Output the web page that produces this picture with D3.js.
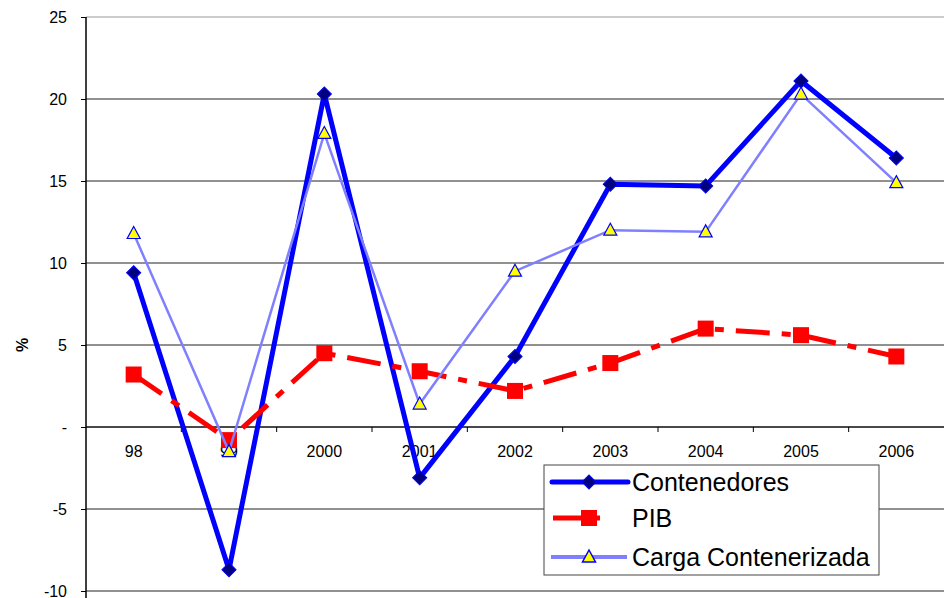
<!DOCTYPE html>
<html>
<head>
<meta charset="utf-8" />
<title>Contenedores</title>
<script src="https://d3js.org/d3.v7.min.js"></script>
<style>
  body { margin: 0; background: #fff; }
  text { font-family: "Liberation Sans", Arial, sans-serif; }
</style>
</head>
<body>
<svg id="chart" width="946" height="598"></svg>
<script>
var years = ["98", "99", "2000", "2001", "2002", "2003", "2004", "2005", "2006"];
var contenedores = [9.4, -8.7, 20.3, -3.1, 4.3, 14.8, 14.7, 21.1, 16.4];
var pib = [3.2, -0.8, 4.5, 3.4, 2.2, 3.9, 6.0, 5.6, 4.3];
var carga = [11.8, -1.5, 17.9, 1.4, 9.5, 12.0, 11.9, 20.3, 14.9];
var yTicks = [-10, -5, 0, 5, 10, 15, 20, 25];

var svg = d3.select("#chart");
var plotLeft = 86, plotRight = 944, plotTop = 17, plotBottom = 591;

var x = d3.scaleBand().domain(years).range([plotLeft, plotRight]);
var y = d3.scaleLinear().domain([-10, 25]).range([plotBottom, plotTop]);

// grid lines
svg.selectAll("line.grid").data(yTicks).enter().append("line")
  .attr("x1", plotLeft).attr("x2", plotRight)
  .attr("y1", function(d) { return y(d); }).attr("y2", function(d) { return y(d); })
  .attr("stroke", function(d) { return d == 25 ? "#999" : "#222"; })
  .attr("stroke-width", 1);

// y axis
var yAxis = d3.axisLeft(y).tickValues(yTicks).tickSize(5)
  .tickFormat(function(d) { return d == 0 ? "-" : d; });
var ya = svg.append("g").attr("transform", "translate(" + plotLeft + ",0)").call(yAxis);
ya.select(".domain").attr("stroke", "#000").attr("stroke-width", 1.5)
  .attr("d", "M0," + plotTop + "V598");
ya.selectAll("text").attr("font-size", 16).attr("fill", "#000").attr("x", -19)
  .attr("font-family", "Liberation Sans, Arial, sans-serif");
ya.selectAll(".tick line").attr("stroke", "#000");

// x axis on zero line
var boundaries = years.slice(1).map(function(d) { return x(d); });
svg.append("line").attr("x1", plotLeft).attr("x2", plotRight).attr("y1", y(0)).attr("y2", y(0))
  .attr("stroke", "#000").attr("stroke-width", 1);
svg.selectAll("line.xt").data(boundaries).enter().append("line")
  .attr("x1", function(d) { return d; }).attr("x2", function(d) { return d; })
  .attr("y1", y(0)).attr("y2", y(0) + 5).attr("stroke", "#000");
svg.selectAll("text.xl").data(years).enter().append("text")
  .attr("x", function(d) { return x(d) + x.bandwidth() / 2; })
  .attr("y", y(0) + 30)
  .attr("text-anchor", "middle").attr("font-size", 16)
  .text(function(d) { return d; });

// y label
svg.append("text").attr("transform", "translate(28,345) rotate(-90)")
  .attr("text-anchor", "middle").attr("font-size", 16).attr("font-weight", "bold")
  .text("%");

var cx = function(d, i) { return x(years[i]) + x.bandwidth() / 2; };
var line = d3.line().x(cx).y(function(d) { return y(d); });

// Contenedores
svg.append("path").datum(contenedores).attr("d", line)
  .attr("fill", "none").attr("stroke", "#0000ff").attr("stroke-width", 5)
  .attr("stroke-linejoin", "round");
svg.selectAll("path.dia").data(contenedores).enter().append("path")
  .attr("transform", function(d, i) { return "translate(" + cx(d, i) + "," + y(d) + ") rotate(45)"; })
  .attr("d", "M-5,-5H5V5H-5Z")
  .attr("fill", "#000080").attr("stroke", "#0000ff").attr("stroke-width", 1);

// PIB
svg.append("path").datum(pib).attr("d", line)
  .attr("fill", "none").attr("stroke", "#ff0000").attr("stroke-width", 5)
  .attr("stroke-dasharray", "34,12,9,12");
svg.selectAll("rect.sq").data(pib).enter().append("rect")
  .attr("x", function(d, i) { return cx(d, i) - 8; })
  .attr("y", function(d) { return y(d) - 8; })
  .attr("width", 16).attr("height", 16).attr("fill", "#ff0000");

// Carga Contenerizada
svg.append("path").datum(carga).attr("d", line)
  .attr("fill", "none").attr("stroke", "#8080ff").attr("stroke-width", 2.5);
var tri = "M0,-7L6.5,5H-6.5Z";
svg.selectAll("path.tri").data(carga).enter().append("path")
  .attr("transform", function(d, i) { return "translate(" + cx(d, i) + "," + y(d) + ")"; })
  .attr("d", tri)
  .attr("fill", "#ffff00").attr("stroke", "#0000ff").attr("stroke-width", 1.2);

// legend
var lg = svg.append("g");
lg.append("rect").attr("x", 544).attr("y", 465).attr("width", 335).attr("height", 110)
  .attr("fill", "#fff").attr("stroke", "#444").attr("stroke-width", 1);

lg.append("line").attr("x1", 552).attr("x2", 628).attr("y1", 482).attr("y2", 482)
  .attr("stroke", "#0000ff").attr("stroke-width", 5).attr("stroke-linecap", "round");
lg.append("path").attr("transform", "translate(589,482) rotate(45)")
  .attr("d", "M-5,-5H5V5H-5Z").attr("fill", "#000080").attr("stroke", "#0000ff");

lg.append("line").attr("x1", 553).attr("x2", 600).attr("y1", 518).attr("y2", 518)
  .attr("stroke", "#ff0000").attr("stroke-width", 5);
lg.append("rect").attr("x", 581).attr("y", 510).attr("width", 16).attr("height", 16)
  .attr("fill", "#ff0000");

lg.append("line").attr("x1", 551).attr("x2", 627).attr("y1", 557).attr("y2", 557)
  .attr("stroke", "#8080ff").attr("stroke-width", 4);
lg.append("path").attr("transform", "translate(589,557)").attr("d", tri)
  .attr("fill", "#ffff00").attr("stroke", "#0000ff").attr("stroke-width", 1.5);

var names = ["Contenedores", "PIB", "Carga Contenerizada"];
var ly = [482, 518, 557];
lg.selectAll("text").data(names).enter().append("text")
  .attr("x", 632).attr("y", function(d, i) { return ly[i]; })
  .attr("dy", "0.35em").attr("font-size", 25)
  .text(function(d) { return d; });
</script>
</body>
</html>
